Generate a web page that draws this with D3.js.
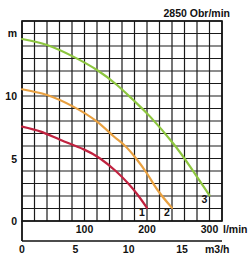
<!DOCTYPE html>
<html><head><meta charset="utf-8">
<script src="https://cdn.jsdelivr.net/npm/d3@7"></script>
<style>body{margin:0;background:#fff}svg{display:block}text{font-family:"Liberation Sans",Arial,sans-serif;font-weight:bold;font-size:10.5px;fill:#111}</style>
</head><body><svg width="250" height="257"></svg>
<script>
// Data: flow Q (l/min) vs head H (m)
const curve1Q = [0, 30, 61, 98, 125, 150, 170, 185, 200];
const curve1H = [7.55, 7.15, 6.5, 5.75, 5.0, 4.0, 3.0, 2.1, 1.05];
const curve2Q = [0, 40, 82, 120, 146, 163, 181, 200, 218, 240];
const curve2H = [10.54, 10.08, 9.15, 7.95, 6.8, 6.1, 5.1, 3.8, 2.4, 1.05];
const curve3Q = [0, 40, 82, 120, 152, 178, 205, 242, 269, 300];
const curve3H = [14.56, 14.08, 13.15, 12.08, 10.88, 9.68, 8.35, 6.2, 4.35, 2.05];
const curveNames = ["1", "2", "3"];
const curveColors = ["#c0223f", "#e8a040", "#8dc63f"];
const yTicks = [0, 5, 10];
const lminTicks = [100, 200, 300];
const m3hTicks = [0, 5, 10, 15];
const title = "2850 Obr/min";

const svg = d3.select("svg");
const x = d3.scaleLinear().domain([0, 320]).range([22, 222]);
const xm3 = d3.scaleLinear().domain([0, 18.75]).range([22, 222]);
const y = d3.scaleLinear().domain([0, 16]).range([221, 21]);

// grid
const g = svg.append("g");
g.selectAll(".vg").data(d3.range(0, 321, 20)).join("line")
  .attr("x1", d => x(d)).attr("x2", d => x(d)).attr("y1", y(0)).attr("y2", y(16))
  .attr("stroke", "#1a1a1a").attr("stroke-width", 1.2);
g.selectAll(".hg").data(d3.range(0, 17, 1)).join("line")
  .attr("x1", x(0)).attr("x2", x(320)).attr("y1", d => y(d)).attr("y2", d => y(d))
  .attr("stroke", "#1a1a1a").attr("stroke-width", 1.2);
// borders
g.append("rect").attr("x", x(0)).attr("y", y(16)).attr("width", x(320) - x(0)).attr("height", y(0) - y(16))
  .attr("fill", "none").attr("stroke", "#111").attr("stroke-width", 1.6);
g.append("line").attr("x1", x(0)).attr("x2", x(0)).attr("y1", y(0)).attr("y2", 241)
  .attr("stroke", "#111").attr("stroke-width", 1.8);
g.append("line").attr("x1", x(0)).attr("x2", x(320)).attr("y1", 241).attr("y2", 241)
  .attr("stroke", "#111").attr("stroke-width", 1.4);

// curves
const line = d3.line().x(d => x(d[0])).y(d => y(d[1])).curve(d3.curveNatural);
const series = [d3.zip(curve1Q, curve1H), d3.zip(curve2Q, curve2H), d3.zip(curve3Q, curve3H)];
series.forEach((s, i) => {
  svg.append("path").attr("d", line(s)).attr("fill", "none")
    .attr("stroke", curveColors[i]).attr("stroke-width", 2.2).attr("stroke-linecap", "round");
  const last = s[s.length - 1];
  svg.append("text").attr("x", x(last[0]) - 5).attr("y", y(last[1]) + 8)
    .attr("text-anchor", "middle").text(curveNames[i]);
});

// y tick labels
svg.selectAll(".yt").data(yTicks).join("text")
  .attr("x", 17).attr("y", d => y(d) + 4).attr("text-anchor", "end").text(d => d);
svg.append("text").attr("x", 17).attr("y", y(15) + 3).attr("text-anchor", "end").text("m");

// l/min labels
svg.selectAll(".xt").data(lminTicks).join("text")
  .attr("x", d => x(d)).attr("y", 233).attr("text-anchor", "middle").text(d => d);
svg.append("text").attr("x", 223).attr("y", 233).text("l/min");

// m3/h labels
svg.selectAll(".mt").data(m3hTicks).join("text")
  .attr("x", d => xm3(d)).attr("y", 253).attr("text-anchor", "middle").text(d => d);
svg.append("text").attr("x", 205).attr("y", 253).text("m3/h");

svg.append("text").attr("x", 230).attr("y", 17).attr("text-anchor", "end").text(title);
</script></body></html>
